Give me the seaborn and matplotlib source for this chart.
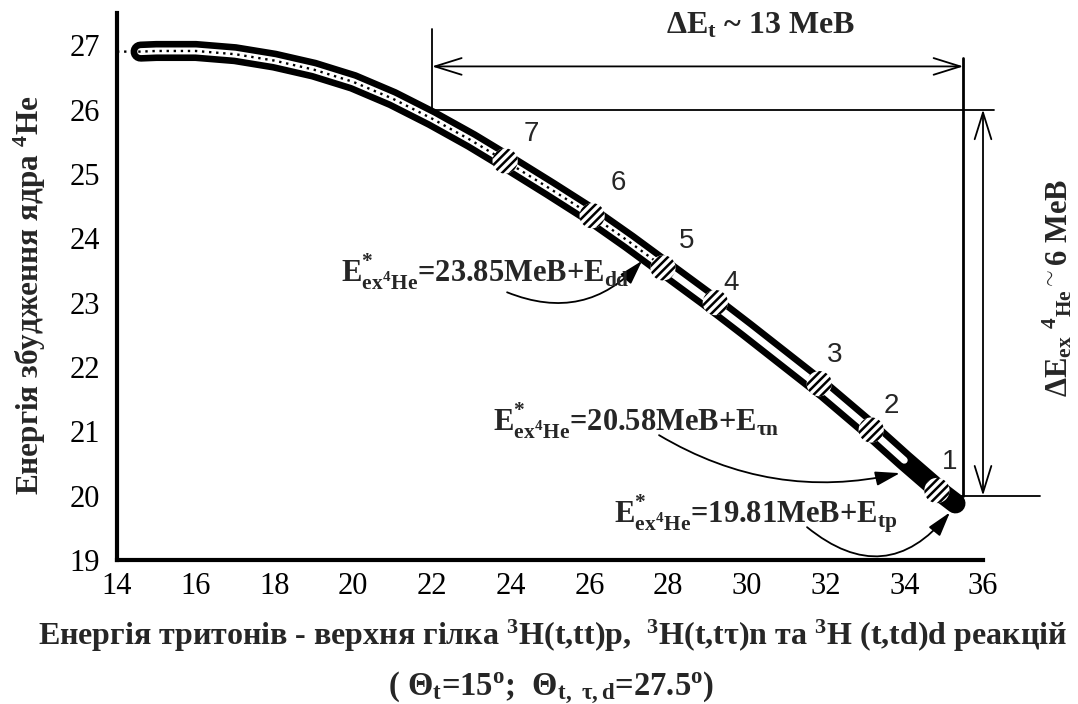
import matplotlib
matplotlib.use("Agg")
import matplotlib.pyplot as plt
import seaborn as sns

# Centre line of the excitation-energy band (upper branch)
curve_x = [14.6, 15, 16, 17, 18, 19, 20, 21, 22, 23, 24, 25, 26, 27, 28,
           29, 30, 31, 32, 33, 34, 35, 35.3]
curve_y = [26.90, 26.91, 26.91, 26.86, 26.76, 26.62, 26.43, 26.17, 25.86,
           25.52, 25.15, 24.77, 24.38, 23.95, 23.50, 23.05, 22.58,
           22.10, 21.62, 21.10, 20.55, 20.02, 19.88]
# hollow core ends where the band becomes solid
core_end_x = 34.0
dotted_end_x = 28.0
dotted_start = (14.0, 26.90)

# Numbered points on the band
point_labels = ["1", "2", "3", "4", "5", "6", "7"]
point_x = [34.83, 33.16, 31.84, 29.20, 27.87, 26.07, 23.86]
point_y = [20.08, 21.02, 21.74, 23.00, 23.54, 24.35, 25.20]
label_x = [35.16, 33.68, 32.23, 29.59, 28.48, 26.73, 24.52]
label_y = [20.53, 21.39, 22.19, 23.31, 23.95, 24.86, 25.62]

x_ticks = [14, 16, 18, 20, 22, 24, 26, 28, 30, 32, 34, 36]
y_ticks = [19, 20, 21, 22, 23, 24, 25, 26, 27]

sns.set_theme(style="white")
plt.rcParams["font.family"] = ["Liberation Serif", "DejaVu Serif"]
plt.rcParams["mathtext.fontset"] = "custom"
plt.rcParams["mathtext.rm"] = "Liberation Serif:bold"
plt.rcParams["mathtext.it"] = "Liberation Serif:bold"
plt.rcParams["mathtext.bf"] = "Liberation Serif:bold"
plt.rcParams["mathtext.sf"] = "Liberation Serif:bold"
plt.rcParams["hatch.color"] = "black"
plt.rcParams["hatch.linewidth"] = 1.8

W, H = 1078, 704
fig = plt.figure(figsize=(W / 100, H / 100), dpi=100)
ax = fig.add_axes([117 / W, 1 - 560 / H, (983 - 117) / W, (560 - 13) / H])


def fx(px):
    return px / W


def fy(py):
    return 1 - py / H


# thick black band
sns.lineplot(x=curve_x, y=curve_y, ax=ax, color="black", lw=14.5,
             sort=False, estimator=None, solid_capstyle="round")
# white hollow core
core = [(x, y) for x, y in zip(curve_x, curve_y) if x <= core_end_x]
sns.lineplot(x=[c[0] for c in core], y=[c[1] for c in core], ax=ax,
             color="white", lw=5, sort=False, estimator=None,
             solid_capstyle="round")
# dotted centre line
dots = [dotted_start] + [(x, y) for x, y in zip(curve_x, curve_y)
                         if x <= dotted_end_x]
ax.plot([d[0] for d in dots], [d[1] for d in dots], color="black",
        lw=1.7, linestyle=(0, (1, 2.0)), zorder=3)

# hatched markers
sns.scatterplot(x=point_x, y=point_y, ax=ax, s=330, color="white",
                edgecolor="black", linewidth=0, hatch="////", zorder=4)
for lab, lx, ly in zip(point_labels, label_x, label_y):
    ax.text(lx, ly, lab, fontsize=20, family="Liberation Sans",
            ha="center", va="center", zorder=5)

ax.set_xlim(14, 36)
ax.set_ylim(19, 27.5)
ax.set_xticks(x_ticks)
ax.set_yticks(y_ticks)
ax.set_xticks([15, 17, 19, 21, 23, 25, 27, 29, 31, 33, 35], minor=True)
ax.set_yticks([19.5, 20.5, 21.5, 22.5, 23.5, 24.5, 25.5, 26.5, 27.5],
              minor=True)
for s in ["top", "right"]:
    ax.spines[s].set_visible(False)
for s in ["left", "bottom"]:
    ax.spines[s].set_linewidth(3)
    ax.spines[s].set_color("black")
ax.tick_params(which="major", direction="in", length=7, width=3,
               labelsize=22, colors="black")
ax.tick_params(axis="y", which="major", pad=12)
ax.tick_params(axis="x", which="major", pad=9)
ax.tick_params(which="minor", direction="in", length=4, width=3,
               colors="black")
ax.grid(False)

# dimension lines
line_kw = dict(color="black", lw=1.3, clip_on=False)
ax.plot([22, 22], [26.0, 27.25], **line_kw)
ax.plot([22, 36.27], [26.0, 26.0], **line_kw)
ax.plot([35.5, 35.5], [20.0, 26.8], color="black", lw=2, clip_on=False)
ax.plot([35.3, 37.45], [20.0, 20.0], **line_kw)
ax.annotate("", xy=(35.5, 26.67), xytext=(22, 26.67),
            arrowprops=dict(arrowstyle="<->,head_length=1.6,head_width=0.5",
                            color="black", lw=1.3, shrinkA=0, shrinkB=0),
            annotation_clip=False)
ax.annotate("", xy=(36.0, 20.0), xytext=(36.0, 26.0),
            arrowprops=dict(arrowstyle="<->,head_length=1.6,head_width=0.5",
                            color="black", lw=1.3, shrinkA=0, shrinkB=0),
            annotation_clip=False)

fig.text(fx(761), fy(33), r"ΔE$_{t}$ ~ 13 МеВ", fontsize=23,
         fontweight="bold", ha="center", va="baseline")
fig.text(fx(1058), fy(288), r"ΔE$_{ex}$ $^{4}$$_{He}$$^{\sim}$6 МеВ",
         fontsize=22, fontweight="bold", rotation=90,
         ha="center", va="center")

# labelled arrows
arrow_kw = dict(arrowstyle="-|>,head_length=0.75,head_width=0.22",
                color="black", lw=1.3, shrinkA=0, shrinkB=0,
                mutation_scale=20)
ann_fs = 22
ax.text(19.69, 23.31, r"E$^{*}_{ex^{4}He}$=23.85МеВ+E$_{dd}$",
        fontsize=ann_fs, fontweight="bold", va="baseline", zorder=6)
ax.annotate("", xy=(27.34, 23.65), xytext=(23.91, 23.16),
            arrowprops=dict(connectionstyle="arc3,rad=0.35", **arrow_kw))
ax.text(23.55, 21.0, r"E$^{*}_{ex^{4}He}$=20.58МеВ+E$_{\tau n}$",
        fontsize=ann_fs, fontweight="bold", va="baseline", zorder=6)
ax.annotate("", xy=(33.89, 20.35), xytext=(27.77, 20.94),
            arrowprops=dict(connectionstyle="arc3,rad=0.2", **arrow_kw))
ax.text(26.63, 19.56, r"E$^{*}_{ex^{4}He}$=19.81МеВ+E$_{tp}$",
        fontsize=ann_fs, fontweight="bold", va="baseline", zorder=6)
ax.annotate("", xy=(35.16, 19.74), xytext=(31.53, 19.51),
            arrowprops=dict(connectionstyle="arc3,rad=0.5", **arrow_kw),
            annotation_clip=False)

# axis titles
fig.text(fx(30), fy(295), r"Енергія збудження ядра $^{4}$He", fontsize=22.5,
         fontweight="bold", rotation=90, ha="center", va="center")
fig.text(fx(553), fy(645),
         r"Енергія тритонів - верхня гілка $^{3}$H(t,tt)p,  $^{3}$H(t,tτ)n та "
         r"$^{3}$H (t,td)d реакцій",
         fontsize=23, fontweight="bold", ha="center", va="baseline")
fig.text(fx(551), fy(695),
         r"( Θ$_{t}$=15$^{o}$;  Θ$_{t,\ \tau,d}$=27.5$^{o}$)",
         fontsize=23.5, fontweight="bold", ha="center", va="baseline")

fig.savefig("out.png", dpi=100, facecolor="white")
